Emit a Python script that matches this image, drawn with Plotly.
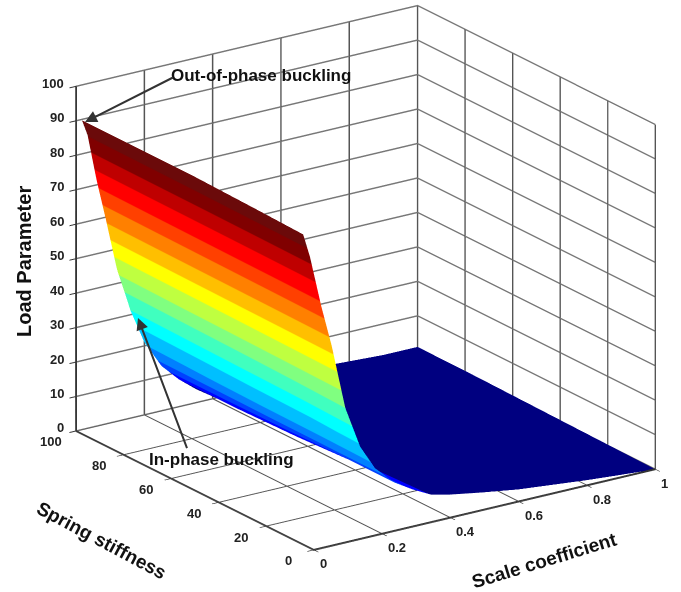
import plotly.graph_objects as go

scale_coefficient = [0, .02, .05, .08, .12, .16, .2, .25, .3, .35, .4, .5, .6, .7, .8, .9, 1.0]
near_edge_stiffness = [4.5, 4.5, 4, 4, 4, 3.5, 3, 2, 1.5, 1, .5, 0, 0, 0, 0, 0, 0]
far_edge_stiffness = [97.5, 98, 98.5, 99, 100, 100, 100, 100, 100, 100, 100, 100, 100, 100, 100, 100, 100]
mid_stiffness = [25, 50, 75]
load_y0 = [90, 83, 68, 56, 37, 25, 18, 13, 10, 7.5, 6.5, 5, 3.5, 2.5, 1.5, .7, 0]
load_y25 = [90.5, 84, 69, 57, 39, 27, 18.5, 13, 9.5, 7, 6, 4.5, 3.2, 2.4, 1.5, .8, .3]
load_y50 = [91, 85, 70, 58, 41, 28, 19, 13, 8.5, 6, 5, 3.8, 3, 2.3, 1.5, 1, .6]
load_y75 = [91, 85.5, 71, 59, 42.5, 29.5, 20, 13, 8, 5, 4, 3.2, 2.5, 2.1, 1.6, 1.1, .9]
load_y100 = [91, 86, 72, 60, 44, 31, 21, 13, 8, 4, 3, 2.5, 2, 2, 1.5, 1, 1]
load = [load_y0, load_y25, load_y50, load_y75, load_y100]

stiffness_grid = [near_edge_stiffness] + [[m] * len(scale_coefficient) for m in mid_stiffness] + [far_edge_stiffness]
scale_grid = [scale_coefficient for _ in stiffness_grid]

band_colors = ["#000080", "#0000ff", "#0040ff", "#0080ff", "#00bfff", "#00ffff",
               "#40ffbf", "#80ff80", "#bfff40", "#ffff00", "#ffbf00", "#ff8000",
               "#ff4000", "#ff0000", "#bf0000", "#800000", "#6b0a0a"]
band_edges = [0, 8, 11, 15, 20, 26, 31.5, 37, 42.5, 48, 53.5, 59, 64.5, 70, 75.5, 81, 86, 91]
colorscale = []
for i, c in enumerate(band_colors):
    colorscale += [[band_edges[i] / 91, c], [band_edges[i + 1] / 91, c]]

x_ticks = [0, .2, .4, .6, .8, 1]
y_ticks = [0, 20, 40, 60, 80, 100]
z_ticks = list(range(0, 101, 10))

W, H = 681, 592


def axis(tickvals, rng, grid):
    return dict(range=rng, tickvals=tickvals, showticklabels=False,
                title=dict(text=""),
                showgrid=True, gridcolor=grid, gridwidth=3,
                showline=True, linecolor="#333", linewidth=4,
                ticks="outside", ticklen=8, tickcolor="#333", tickwidth=2,
                showbackground=False, zeroline=False, showspikes=False)


fig = go.Figure(go.Surface(x=scale_grid, y=stiffness_grid, z=load,
                           colorscale=colorscale, cmin=0, cmax=91, showscale=False,
                           lighting=dict(ambient=1, diffuse=0, specular=0, roughness=1, fresnel=0),
                           hoverinfo="skip"))


def note(text, px, py, size, angle=0):
    return dict(text=f"<b>{text}</b>", xref="paper", yref="paper", x=px / W, y=1 - py / H,
                showarrow=False, textangle=angle, xanchor="center", yanchor="middle",
                font=dict(family="Liberation Sans", size=size, color="#111"))


def arrow(hx, hy, tx, ty):
    return dict(text=" ", xref="paper", yref="paper", x=hx / W, y=1 - hy / H,
                ax=tx - hx, ay=ty - hy, axref="pixel", ayref="pixel", showarrow=True,
                arrowhead=2, arrowsize=1.2, arrowwidth=2, arrowcolor="#333")


def tick_label(t, x, y, z, anchor, xs, ys):
    return dict(text=f"<b>{t:g}</b>", x=x, y=y, z=z, showarrow=False, xanchor=anchor, yanchor="middle",
                xshift=xs, yshift=ys, font=dict(family="Liberation Sans", size=13, color="#222"))


scene_labels = (
    [tick_label(t, t, 0, 0, "left", 4, -14) for t in x_ticks]
    + [tick_label(t, 0, t, 0, "center", -25, -11) for t in y_ticks]
    + [tick_label(t, 0, 100, t, "right", -10, 3) for t in z_ticks]
)

fig.update_layout(
    width=W, height=H, margin=dict(l=0, r=0, t=0, b=0),
    paper_bgcolor="white", showlegend=False,
    scene=dict(
        xaxis=axis(x_ticks, [0, 1], "#555"),
        yaxis=axis(y_ticks, [0, 100], "#555"),
        zaxis=axis(z_ticks, [0, 100], "#777"),
        aspectmode="manual", aspectratio=dict(x=1.40, y=1.418, z=1.24),
        camera=dict(eye=dict(x=-0.933, y=-1.207, z=0.492), center=dict(x=-0.082, y=0.031, z=-0.058),
                    projection=dict(type="orthographic")),
        domain=dict(x=[0, 1], y=[0, 1]),
        annotations=scene_labels,
    ),
    annotations=[
        note("Out-of-phase buckling", 261, 75, 17),
        note("In-phase buckling", 221, 459, 17),
        note("Load Parameter", 24, 262, 20, -90),
        note("Spring stiffness", 102, 540, 19, 28),
        note("Scale coefficient", 544, 560, 19, -17),
        arrow(85, 122, 176, 76),
        arrow(138, 318, 190, 456),
    ],
)
fig.write_html("out.html", post_script="document.body.style.margin='0';",
               config=dict(displayModeBar=False))
